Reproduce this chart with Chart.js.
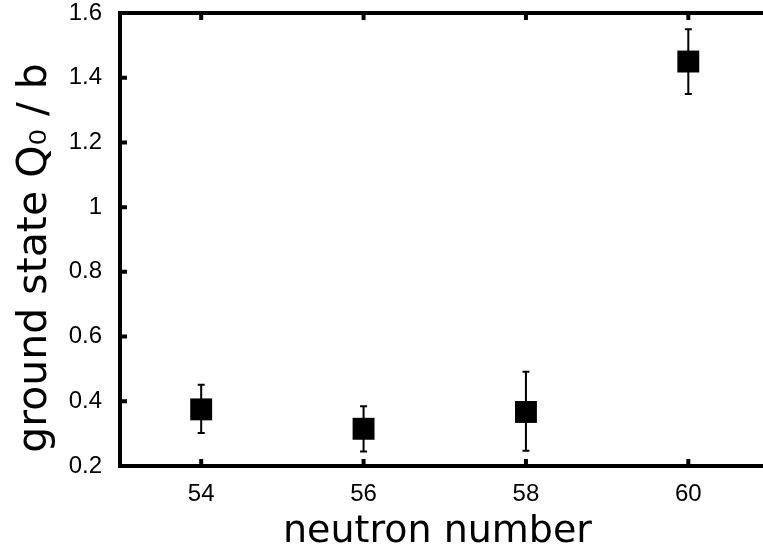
<!DOCTYPE html>
<html>
<head>
<meta charset="utf-8">
<script src="https://cdn.jsdelivr.net/npm/chart.js@4"></script>
<style>
  html, body { margin: 0; padding: 0; background: #fff; overflow: hidden; }
  #wrap { width: 763px; height: 547px; }
</style>
</head>
<body>
<div id="wrap"><canvas id="q0Chart" width="763" height="547"></canvas></div>
<script>
// Data
const neutronNumbers = [54, 56, 58, 60];
const q0Values = [0.375, 0.315, 0.367, 1.45];
const q0ErrUp = [0.076, 0.07, 0.124, 0.1];
const q0ErrDown = [0.073, 0.07, 0.12, 0.1];
const xTicks = [54, 56, 58, 60];
const yTicks = [0.2, 0.4, 0.6, 0.8, 1.0, 1.2, 1.4, 1.6];
const xTitle = 'neutron number';
const yTitle = 'ground state Q\u2080 / b';

const tickFont = { family: "'Liberation Sans', Arial, sans-serif", size: 24 };

// Draws the frame, inward ticks, error bars and axis titles
const framePlugin = {
    id: 'frame',
    afterDatasetsDraw(chart) {
        const ctx = chart.ctx;
        const area = chart.chartArea;
        const xs = chart.scales.x;
        const ys = chart.scales.y;

        ctx.save();
        ctx.strokeStyle = '#000';

        // error bars
        ctx.lineWidth = 2;
        neutronNumbers.forEach((n, i) => {
            const px = xs.getPixelForValue(n);
            const top = ys.getPixelForValue(q0Values[i] + q0ErrUp[i]);
            const bot = ys.getPixelForValue(q0Values[i] - q0ErrDown[i]);
            ctx.beginPath();
            ctx.moveTo(px, top);
            ctx.lineTo(px, bot);
            ctx.moveTo(px - 3.5, top);
            ctx.lineTo(px + 3.5, top);
            ctx.moveTo(px - 3.5, bot);
            ctx.lineTo(px + 3.5, bot);
            ctx.stroke();
        });

        // inward ticks
        ctx.lineWidth = 4;
        ctx.beginPath();
        xTicks.forEach(v => {
            const px = xs.getPixelForValue(v);
            ctx.moveTo(px, area.bottom);
            ctx.lineTo(px, area.bottom - 7);
            ctx.moveTo(px, area.top);
            ctx.lineTo(px, area.top + 7);
        });
        yTicks.forEach(v => {
            const py = ys.getPixelForValue(v);
            ctx.moveTo(area.left, py);
            ctx.lineTo(area.left + 7, py);
        });
        ctx.stroke();

        // frame (left, top, bottom; right edge is outside the picture)
        ctx.beginPath();
        ctx.moveTo(area.right + 2, area.top);
        ctx.lineTo(area.left, area.top);
        ctx.lineTo(area.left, area.bottom);
        ctx.lineTo(area.right + 2, area.bottom);
        ctx.stroke();

        // axis titles
        ctx.fillStyle = '#000';
        ctx.textAlign = 'center';
        ctx.textBaseline = 'alphabetic';
        ctx.font = "38px 'DejaVu Sans', sans-serif";
        ctx.fillText(xTitle, (area.left + area.right) / 2 - 4, 542);

        ctx.font = "41px 'DejaVu Sans', sans-serif";
        ctx.translate(46, 258);
        ctx.rotate(-Math.PI / 2);
        ctx.fillText(yTitle, 0, 0);
        ctx.restore();
    }
};

const ctx = document.getElementById('q0Chart').getContext('2d');
new Chart(ctx, {
    type: 'scatter',
    data: {
        datasets: [{
            data: neutronNumbers.map((n, i) => ({ x: n, y: q0Values[i] })),
            pointStyle: 'rect',
            pointRadius: 15.5,
            pointHoverRadius: 15.5,
            backgroundColor: '#000',
            borderColor: '#000',
            borderWidth: 0
        }]
    },
    options: {
        responsive: false,
        animation: false,
        layout: {
            autoPadding: false,
            padding: { top: 13, right: 0, left: 0, bottom: 0 }
        },
        plugins: {
            legend: { display: false },
            tooltip: { enabled: false }
        },
        scales: {
            x: {
                type: 'linear',
                min: 53,
                max: 60.92, // the figure is cropped just before 61
                afterBuildTicks: scale => { scale.ticks = xTicks.map(v => ({ value: v })); },
                afterFit: scale => {
                    scale.height = 81;
                    scale.paddingLeft = 0;
                    scale.paddingRight = 0;
                },
                grid: { display: false, drawTicks: false },
                border: { display: false },
                ticks: {
                    color: '#000',
                    font: tickFont,
                    padding: 14,
                    maxRotation: 0,
                    callback: v => String(v)
                }
            },
            y: {
                type: 'linear',
                min: 0.2,
                max: 1.6,
                afterBuildTicks: scale => { scale.ticks = yTicks.map(v => ({ value: v })); },
                afterFit: scale => {
                    scale.width = 120;
                    scale.paddingTop = 0;
                    scale.paddingBottom = 0;
                },
                grid: { display: false, drawTicks: false },
                border: { display: false },
                ticks: {
                    color: '#000',
                    font: tickFont,
                    padding: 18,
                    callback: v => String(Math.round(v * 10) / 10)
                }
            }
        }
    },
    plugins: [framePlugin]
});
</script>
</body>
</html>
